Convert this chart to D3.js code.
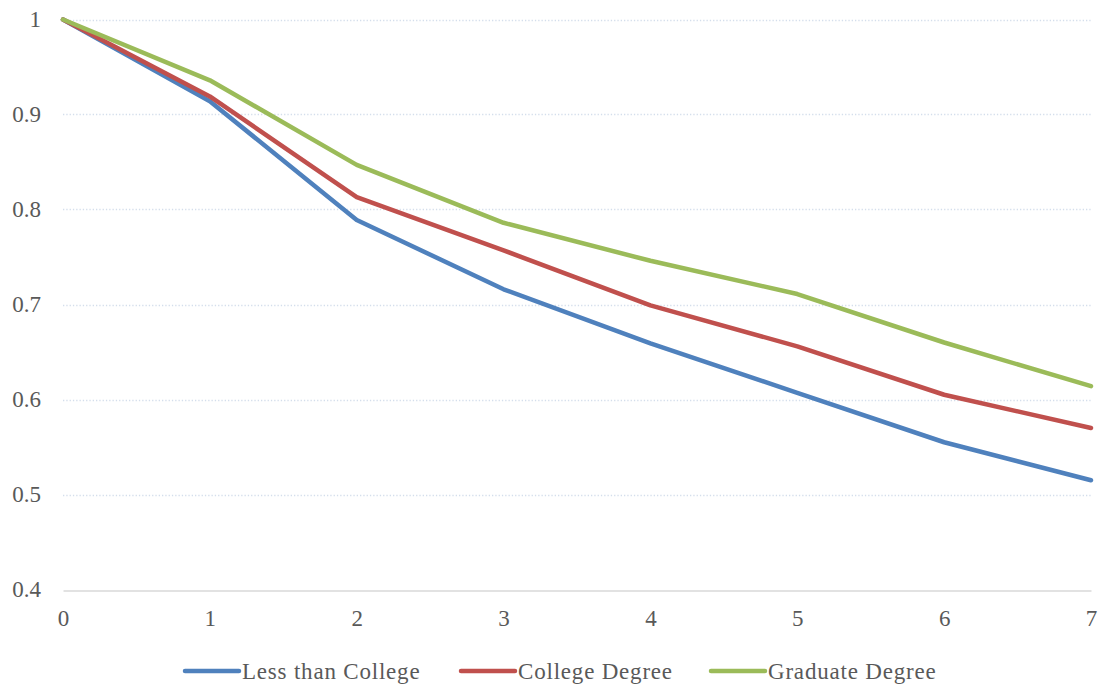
<!DOCTYPE html>
<html>
<head>
<meta charset="utf-8">
<script src="https://cdn.jsdelivr.net/npm/d3@7"></script>
<style>
  html, body { margin: 0; padding: 0; background: #fff; }
  svg text { font-family: "Liberation Serif", "DejaVu Serif", serif; fill: #595959; }
</style>
</head>
<body>
<svg id="chart" width="1105" height="689"></svg>
<script>
// Years since start
const years = [0, 1, 2, 3, 4, 5, 6, 7];
// Share remaining by education level
const lessThanCollege = [1.0, 0.914, 0.789, 0.716, 0.659, 0.607, 0.555, 0.515];
const collegeDegree   = [1.0, 0.919, 0.813, 0.757, 0.699, 0.656, 0.605, 0.570];
const graduateDegree  = [1.0, 0.936, 0.847, 0.786, 0.746, 0.711, 0.660, 0.614];
const seriesNames  = ["Less than College", "College Degree", "Graduate Degree"];
const seriesColors = ["#4F81BD", "#C0504D", "#9BBB59"];
const yTicks = [0.4, 0.5, 0.6, 0.7, 0.8, 0.9, 1];

const series = [lessThanCollege, collegeDegree, graduateDegree].map((vals, i) => ({
  name: seriesNames[i], color: seriesColors[i], values: vals
}));

const svg = d3.select("#chart");
const margin = { left: 63, right: 14, top: 19.5, bottom: 99.5 };
const W = 1105, H = 689;

const x = d3.scaleLinear().domain([0, 7]).range([margin.left, W - margin.right]);
const y = d3.scaleLinear().domain([0.4, 1]).range([H - margin.bottom, margin.top]);

// Horizontal dotted gridlines
svg.append("g")
  .selectAll("line")
  .data(yTicks.filter(t => t > 0.4))
  .join("line")
  .attr("x1", x(0)).attr("x2", x(7))
  .attr("y1", d => Math.round(y(d)) + 0.5).attr("y2", d => Math.round(y(d)) + 0.5)
  .attr("stroke", "#D4DEEC")
  .attr("stroke-width", 1.3)
  .attr("stroke-dasharray", "1.3,2");

// X axis baseline and labels
const xAxis = svg.append("g")
  .attr("transform", `translate(0,${Math.round(y(0.4)) + 0.5})`)
  .call(d3.axisBottom(x).tickValues(years).tickFormat(d3.format("d")).tickSize(0).tickPadding(19));
xAxis.select(".domain").attr("stroke", "#D9D9D9").attr("stroke-width", 1.5);
xAxis.selectAll("text").attr("font-size", 23).style("font-family", null);

// Y axis labels
const yAxis = svg.append("g")
  .attr("transform", `translate(${x(0) - 22},0)`)
  .call(d3.axisLeft(y).tickValues(yTicks).tickFormat(d => d === 1 ? "1" : d3.format(".1f")(d)).tickSize(0).tickPadding(0));
yAxis.select(".domain").remove();
yAxis.selectAll("text").attr("font-size", 23).style("font-family", null);

// Series lines
const line = d3.line().x((d, i) => x(years[i])).y(d => y(d));
svg.append("g")
  .selectAll("path")
  .data(series)
  .join("path")
  .attr("d", d => line(d.values))
  .attr("fill", "none")
  .attr("stroke", d => d.color)
  .attr("stroke-width", 4.5)
  .attr("stroke-linejoin", "round")
  .attr("stroke-linecap", "round");

// Legend
const legendX = [185, 461, 711];
const legend = svg.append("g").attr("transform", "translate(0,671)");
const item = legend.selectAll("g").data(series).join("g")
  .attr("transform", (d, i) => `translate(${legendX[i]},0)`);
item.append("line")
  .attr("x1", 0).attr("x2", 54).attr("y1", 0).attr("y2", 0)
  .attr("stroke", d => d.color).attr("stroke-width", 4.5).attr("stroke-linecap", "round");
item.append("text")
  .attr("x", 57).attr("y", 8)
  .attr("font-size", 23)
  .attr("letter-spacing", 0.8)
  .text(d => d.name);
</script>
</body>
</html>
